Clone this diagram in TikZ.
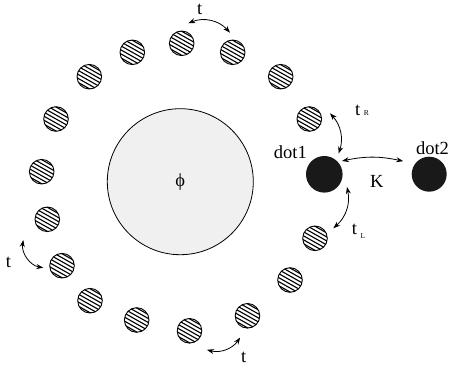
\documentclass[tikz,border=0pt]{standalone}
\usepackage{fontspec}
\setmainfont{Liberation Serif}
\usetikzlibrary{arrows.meta,calc}

\tikzset{
  site/.style={circle, draw, line width=0.9pt, minimum size=24.6pt, inner sep=0pt,
    path picture={
      \foreach \k in {-20,-16,...,20}
        \draw[line width=1.1pt]
          ($(path picture bounding box.center)+(-16,\k+9)$) --
          ($(path picture bounding box.center)+(16,\k-9)$);
    }},
  dotnode/.style={circle, fill=black!90, inner sep=0pt},
  lab/.style={font=\fontsize{18.5}{20}\selectfont, inner sep=0pt},
  hop/.style={{Stealth[length=7pt,width=5pt]}-{Stealth[length=7pt,width=5pt]}, line width=0.8pt},
}

\begin{document}
\begin{tikzpicture}[x=1pt,y=1pt]
\useasboundingbox (0,0) rectangle (450,373);
% gate region
\node[circle, draw, line width=0.8pt, fill=black!6, minimum size=146pt, inner sep=0pt,
  font=\fontsize{18.5}{20}\selectfont] (phi) at (180.3,191.3) {ϕ};
% ring sites
\foreach \p [count=\i] in {(309.3,254),(280.7,296.3),(232.7,320.7),(181.7,329.7),
    (132.3,320.7),(89.3,296.3),(56,254),(41.7,201.3),(47.3,153.7),(62,107.3),
    (90,72.3),(136.7,53),(189.5,42.2),(247.5,57.2),(290,93),(315,134.7)}
  \node[site] (s\i) at \p {};
% dots
\node[dotnode, minimum size=36.6pt] (dot1) at (324.3,198.7) {};
\node[dotnode, minimum size=35pt] (dot2) at (429.2,198.8) {};
\node[lab] (dot1lab) at (290.3,220.5) {dot1};
\node[lab] (dot2lab) at (432.5,225.2) {dot2};
% hoppings
\draw[hop] ($(s4)+(71.7:21.1)$) to[bend left=35] ($(s3)+(97.8:19.8)$);
\node[lab] (ttop) at (199.7,364) {t};
\draw[hop] ($(s1)+(15.4:21.5)$) to[bend left=30] ($(dot1)+(55.4:25.2)$);
\node[lab, anchor=base west] (tR) at (355,258) {t\hspace{3.5pt}{\fontsize{7.5}{8}\selectfont R}};
\draw[hop] ($(dot1)+(37:22.1)$) to[bend left=12] ($(dot2)+(153.4:29.1)$);
\node[lab] (K) at (376.7,191.8) {K};
\draw[hop] ($(dot1)+(-29.2:26)$) to[bend left=30] ($(s16)+(28.7:20.9)$);
\node[lab, anchor=base west] (tL) at (351.7,139) {t\hspace{3.5pt}\raisebox{-4.3pt}{\fontsize{7.5}{8}\selectfont L}};
\draw[hop] ($(s9)+(220.8:31.7)$) to[bend right=45] ($(s10)+(186.1:18.8)$);
\node[lab] (tleft) at (8.5,111) {t};
\draw[hop] ($(s13)+(-47.5:25.8)$) to[bend right=35] ($(s14)+(251.4:22.9)$);
\node[lab] (tbot) at (243.7,15.5) {t};
\end{tikzpicture}
\end{document}
